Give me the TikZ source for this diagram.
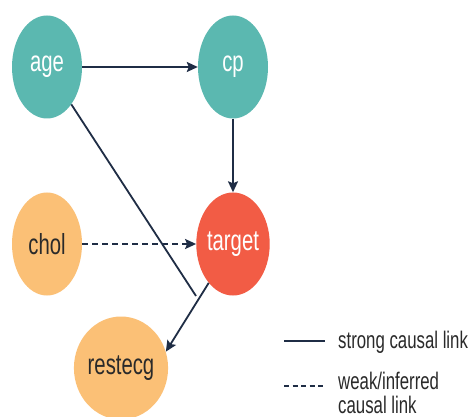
\documentclass[tikz,border=0pt]{standalone}
\usepackage{fontspec}
\setmainfont{Liberation Sans}
\newfontfamily\condfont[FakeStretch=0.7]{Liberation Sans}
\usetikzlibrary{shapes.geometric,arrows.meta}
\definecolor{tealc}{HTML}{5BB8B0}
\definecolor{peach}{HTML}{FBC076}
\definecolor{redc}{HTML}{F25C45}
\definecolor{navy}{HTML}{1F2D45}
\definecolor{darktext}{HTML}{2A2A2A}
\tikzset{
  var/.style={ellipse, minimum width=70pt, minimum height=103pt, inner sep=0pt, font=\condfont\fontsize{29}{31}\selectfont},
  tealnode/.style={var, fill=tealc, text=white},
  peachnode/.style={var, fill=peach, text=darktext},
  rednode/.style={var, fill=redc, text=white},
  link/.style={draw=navy, line width=1.8pt},
  arrow/.style={link, -{Stealth[length=11pt,width=10pt,inset=2pt]}},
  weak/.style={arrow, dash pattern=on 6pt off 4pt},
  legtext/.style={font=\condfont\fontsize{24}{24}\selectfont, text=darktext, inner sep=0pt, align=left}
}
\begin{document}
\begin{tikzpicture}[x=1pt,y=-1pt]
\useasboundingbox (0,0) rectangle (469,417);
\fill[white] (0,0) rectangle (469,417);
\node[tealnode] (age) at (47,67) {age};
\node[tealnode] (cp) at (233,67) {cp};
\node[peachnode] (chol) at (47,244) {chol};
\node[rednode] (target) at (233,244) {target};
\node[peachnode] (restecg) at (121,368) {restecg};
\coordinate (j) at (196,296);
\draw[arrow] (age) -- (cp);
\draw[arrow] (cp) -- (target);
\draw[weak] (chol) -- (target);
\draw[link] (age) -- (j);
\draw[arrow] (target) -- (restecg.20);
% legend
\coordinate (l1a) at (284,341);
\coordinate (l1b) at (325,341);
\coordinate (l2a) at (284,386);
\coordinate (l2b) at (325,386);
\draw[link] (l1a) -- (l1b);
\draw[link, dash pattern=on 5pt off 3.5pt] (l2a) -- (l2b);
\node[legtext, anchor=base west] (strong) at (338,348) {strong causal link};
\node[legtext, anchor=base west] (weaklbl) at (338,413) {weak/inferred\\causal link};
\end{tikzpicture}
\end{document}
